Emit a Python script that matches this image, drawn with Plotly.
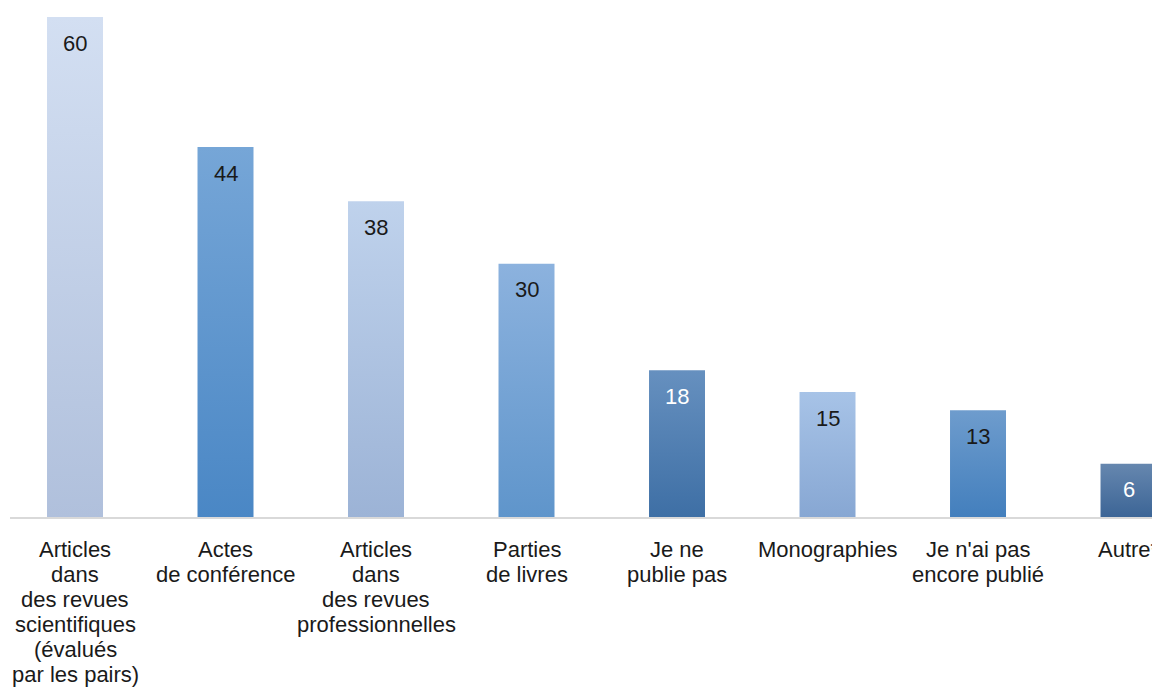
import plotly.graph_objects as go

category_lines = [
    ["Articles", "dans", "des revues", "scientifiques", "(évalués", "par les pairs)"],
    ["Actes", "de conférence"],
    ["Articles", "dans", "des revues", "professionnelles"],
    ["Parties", "de livres"],
    ["Je ne", "publie pas"],
    ["Monographies"],
    ["Je n'ai pas", "encore publié"],
    ["Autre*"],
]
values = [60.0, 44.4, 37.9, 30.4, 17.6, 15.0, 12.8, 6.4]
labels = [str(round(v)) for v in values]
top_colors = ["#d3dff2", "#76a6d7", "#bfd2ec", "#8cb2de", "#6690bf", "#a7c3e7", "#6e9ccd", "#6687af"]
bottom_colors = ["#b0c0dc", "#4a87c5", "#9cb3d6", "#5f95cb", "#3e6fa5", "#87a7d3", "#437fbd", "#3c6596"]
label_colors = ["#1a1a1a", "#1a1a1a", "#1a1a1a", "#1a1a1a", "#ffffff", "#1a1a1a", "#1a1a1a", "#ffffff"]

BAR_W = 0.372
FONT = "Liberation Sans, Arial, Helvetica, sans-serif"
FS = 22
LINE_H = 25

fig = go.Figure()
for i, v in enumerate(values):
    x0, x1 = i - BAR_W / 2, i + BAR_W / 2
    fig.add_trace(go.Scatter(
        x=[x0, x1, x1, x0, x0],
        y=[0, 0, v, v, 0],
        mode="lines",
        line=dict(width=0),
        fill="toself",
        fillgradient=dict(
            type="vertical",
            start=0,
            stop=v,
            colorscale=[[0, bottom_colors[i]], [1, top_colors[i]]],
        ),
        hoverinfo="skip",
        showlegend=False,
    ))
    fig.add_annotation(
        x=i, y=v, text=labels[i], showarrow=False,
        yanchor="middle", yshift=-26,
        font=dict(family=FONT, size=FS, color=label_colors[i]),
    )
    for k, line in enumerate(category_lines[i]):
        fig.add_annotation(
            x=i, xref="x", y=0, yref="paper", text=line, showarrow=False,
            xanchor="center", yanchor="middle", yshift=-(32 + LINE_H * k),
            font=dict(family=FONT, size=FS, color="#1a1a1a"),
        )

fig.update_layout(
    width=1152, height=680,
    margin=dict(l=2, r=0, t=9, b=171),
    plot_bgcolor="white", paper_bgcolor="white",
    showlegend=False,
    font=dict(family=FONT, size=FS, color="#1a1a1a"),
)
fig.update_xaxes(
    range=[-0.4319, 7.2092],
    showticklabels=False,
    showgrid=False, zeroline=False,
    showline=True, linecolor="#d9d9d9", linewidth=2,
    ticks="",
)
fig.update_yaxes(
    range=[0, 60], visible=False, showgrid=False, zeroline=False,
)

fig.write_html("out.html")
